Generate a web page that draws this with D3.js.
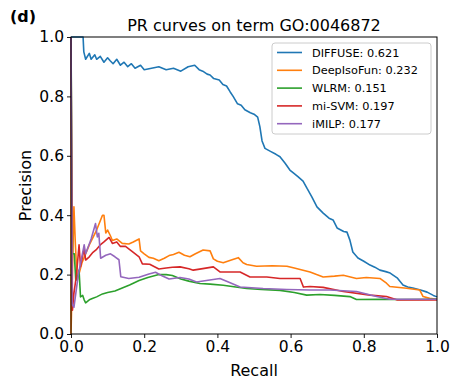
<!DOCTYPE html>
<html>
<head>
<meta charset="utf-8">
<script src="https://cdn.jsdelivr.net/npm/d3@7"></script>
<style>
  body { margin: 0; background: #fff; }
  text { font-family: "DejaVu Sans", sans-serif; fill: #000; }
</style>
</head>
<body>
<div id="viz"></div>
<script>
// PR curves, points are [recall, precision]
const diffuse = [[0,1],[0.033,1],[0.035,0.95],[0.04,0.925],[0.05,0.945],[0.055,0.925],[0.065,0.94],[0.07,0.925],[0.08,0.935],[0.09,0.915],[0.1,0.93],[0.107,0.92],[0.115,0.91],[0.125,0.925],[0.135,0.905],[0.145,0.915],[0.155,0.9],[0.165,0.91],[0.175,0.895],[0.19,0.905],[0.2,0.89],[0.22,0.895],[0.24,0.9],[0.26,0.89],[0.28,0.895],[0.3,0.885],[0.32,0.9],[0.338,0.905],[0.35,0.89],[0.36,0.885],[0.372,0.875],[0.38,0.872],[0.39,0.86],[0.405,0.855],[0.415,0.84],[0.425,0.835],[0.435,0.815],[0.443,0.8],[0.455,0.775],[0.465,0.77],[0.475,0.755],[0.49,0.745],[0.5,0.74],[0.51,0.73],[0.516,0.698],[0.522,0.65],[0.53,0.625],[0.545,0.615],[0.56,0.605],[0.571,0.597],[0.585,0.575],[0.598,0.552],[0.61,0.54],[0.62,0.53],[0.634,0.515],[0.645,0.49],[0.658,0.462],[0.672,0.428],[0.689,0.407],[0.705,0.39],[0.716,0.384],[0.727,0.357],[0.745,0.345],[0.754,0.343],[0.762,0.316],[0.77,0.276],[0.784,0.256],[0.8,0.245],[0.817,0.232],[0.83,0.225],[0.844,0.215],[0.86,0.21],[0.872,0.205],[0.891,0.189],[0.907,0.165],[0.92,0.158],[0.934,0.155],[0.955,0.148],[0.973,0.141],[0.99,0.13],[1.0,0.125]];

const deepIsoFun = [[0,1],[0,0],[0.008,0.428],[0.012,0.3],[0.017,0.18],[0.03,0.24],[0.05,0.3],[0.07,0.35],[0.086,0.4],[0.09,0.4],[0.095,0.34],[0.1,0.35],[0.108,0.33],[0.113,0.315],[0.125,0.32],[0.14,0.305],[0.158,0.303],[0.17,0.31],[0.186,0.32],[0.19,0.28],[0.2,0.27],[0.213,0.258],[0.225,0.255],[0.24,0.247],[0.255,0.255],[0.268,0.264],[0.28,0.268],[0.295,0.275],[0.31,0.265],[0.325,0.26],[0.34,0.27],[0.361,0.283],[0.38,0.28],[0.389,0.253],[0.4,0.245],[0.416,0.24],[0.44,0.25],[0.457,0.257],[0.47,0.24],[0.48,0.234],[0.507,0.228],[0.55,0.23],[0.59,0.228],[0.61,0.222],[0.626,0.217],[0.653,0.209],[0.671,0.2],[0.689,0.192],[0.72,0.195],[0.744,0.198],[0.78,0.187],[0.807,0.19],[0.844,0.187],[0.862,0.171],[0.871,0.16],[0.917,0.154],[0.953,0.148],[0.962,0.126],[0.98,0.12],[1.0,0.117]];

const wlrm = [[0,1],[0.004,0.27],[0.009,0.27],[0.013,0.18],[0.02,0.2],[0.022,0.215],[0.026,0.125],[0.032,0.13],[0.036,0.115],[0.04,0.105],[0.05,0.115],[0.06,0.12],[0.07,0.125],[0.086,0.135],[0.1,0.14],[0.12,0.145],[0.14,0.155],[0.16,0.165],[0.186,0.18],[0.21,0.19],[0.24,0.2],[0.26,0.2],[0.277,0.197],[0.3,0.185],[0.322,0.178],[0.352,0.17],[0.38,0.168],[0.416,0.164],[0.45,0.158],[0.48,0.153],[0.52,0.15],[0.571,0.147],[0.61,0.14],[0.644,0.131],[0.68,0.133],[0.72,0.13],[0.762,0.126],[0.78,0.116],[0.85,0.117],[0.9,0.116],[1.0,0.117]];

const miSvm = [[0,1],[0.004,0.08],[0.008,0.137],[0.015,0.2],[0.022,0.3],[0.026,0.227],[0.036,0.288],[0.04,0.249],[0.05,0.26],[0.06,0.275],[0.07,0.285],[0.08,0.3],[0.09,0.31],[0.104,0.325],[0.113,0.305],[0.125,0.31],[0.135,0.295],[0.149,0.295],[0.165,0.28],[0.186,0.26],[0.195,0.236],[0.215,0.235],[0.24,0.219],[0.26,0.222],[0.277,0.225],[0.298,0.226],[0.322,0.22],[0.334,0.215],[0.36,0.22],[0.389,0.226],[0.407,0.209],[0.462,0.209],[0.489,0.192],[0.535,0.192],[0.571,0.187],[0.626,0.187],[0.635,0.158],[0.653,0.16],[0.689,0.157],[0.744,0.143],[0.817,0.131],[0.862,0.126],[0.89,0.115],[1.0,0.115]];

const imilp = [[0,1],[0.003,0.1],[0.008,0.09],[0.02,0.2],[0.036,0.3],[0.04,0.27],[0.055,0.32],[0.067,0.372],[0.072,0.327],[0.076,0.339],[0.081,0.255],[0.095,0.265],[0.108,0.27],[0.12,0.26],[0.131,0.25],[0.136,0.193],[0.158,0.187],[0.186,0.191],[0.213,0.202],[0.231,0.208],[0.25,0.195],[0.268,0.185],[0.298,0.19],[0.322,0.185],[0.343,0.175],[0.37,0.18],[0.407,0.187],[0.43,0.175],[0.462,0.158],[0.525,0.153],[0.59,0.15],[0.653,0.148],[0.707,0.148],[0.78,0.143],[0.835,0.126],[0.871,0.117],[1.0,0.117]];

const seriesNames = ["DIFFUSE: 0.621", "DeepIsoFun: 0.232", "WLRM: 0.151", "mi-SVM: 0.197", "iMILP: 0.177"];
const seriesData = [diffuse, deepIsoFun, wlrm, miSvm, imilp];
const colors = ["#1f77b4", "#ff7f0e", "#2ca02c", "#d62728", "#9467bd"];
const ticks = [0, 0.2, 0.4, 0.6, 0.8, 1.0];

const W = 456, H = 381;
const m = { left: 71, right: 19, top: 37, bottom: 47 };
const iw = W - m.left - m.right;
const ih = H - m.top - m.bottom;

const svg = d3.select("#viz").append("svg")
    .attr("width", W)
    .attr("height", H);

const x = d3.scaleLinear().domain([0, 1]).range([m.left, m.left + iw]);
const y = d3.scaleLinear().domain([0, 1]).range([m.top + ih, m.top]);

svg.append("clipPath").attr("id", "clip")
    .append("rect")
    .attr("x", m.left - 1).attr("y", m.top - 1)
    .attr("width", iw + 2).attr("height", ih + 2);

// curves
const line = d3.line().x(d => x(d[0])).y(d => y(d[1]));
svg.append("g").attr("clip-path", "url(#clip)")
    .selectAll("path")
    .data(seriesData)
    .enter()
    .append("path")
    .attr("d", d => line(d))
    .attr("fill", "none")
    .attr("stroke", (d, i) => colors[i])
    .attr("stroke-width", 1.6)
    .attr("stroke-linejoin", "round");

// axes
const fmt = d3.format(".1f");
const gx = svg.append("g")
    .attr("transform", `translate(0,${m.top + ih})`)
    .call(d3.axisBottom(x).tickValues(ticks).tickFormat(fmt).tickSize(4).tickPadding(3));
const gy = svg.append("g")
    .attr("transform", `translate(${m.left},0)`)
    .call(d3.axisLeft(y).tickValues(ticks).tickFormat(fmt).tickSize(4).tickPadding(3));
[gx, gy].forEach(g => {
    g.select(".domain").remove();
    g.selectAll("line").attr("stroke", "#000").attr("stroke-width", 0.9);
    g.selectAll("text").style("font-size", "15.5px").attr("fill", "#000");
});

// frame
svg.append("rect")
    .attr("x", m.left).attr("y", m.top)
    .attr("width", iw).attr("height", ih)
    .attr("fill", "none")
    .attr("stroke", "#000")
    .attr("stroke-width", 1);

// labels
svg.append("text")
    .attr("x", m.left + iw / 2).attr("y", 376)
    .attr("text-anchor", "middle")
    .style("font-size", "16px")
    .text("Recall");
svg.append("text")
    .attr("transform", `translate(31,${m.top + ih / 2}) rotate(-90)`)
    .attr("text-anchor", "middle")
    .style("font-size", "16px")
    .text("Precision");
svg.append("text")
    .attr("x", m.left + iw / 2).attr("y", 31)
    .attr("text-anchor", "middle")
    .style("font-size", "16px")
    .text("PR curves on term GO:0046872");
svg.append("text")
    .attr("x", 10).attr("y", 22)
    .style("font-size", "16px")
    .style("font-weight", "bold")
    .text("(d)");

// legend
const lg = svg.append("g").attr("transform", "translate(272,43)");
lg.append("rect")
    .attr("width", 159).attr("height", 91)
    .attr("rx", 3)
    .attr("fill", "#fff").attr("fill-opacity", 0.8)
    .attr("stroke", "#ccc");
seriesNames.forEach((name, i) => {
    const yy = 9.5 + i * 17.8;
    lg.append("line")
        .attr("x1", 5).attr("x2", 30)
        .attr("y1", yy).attr("y2", yy)
        .attr("stroke", colors[i]).attr("stroke-width", 1.6);
    lg.append("text")
        .attr("x", 40).attr("y", yy + 4)
        .style("font-size", "11.3px")
        .text(name);
});
</script>
</body>
</html>
